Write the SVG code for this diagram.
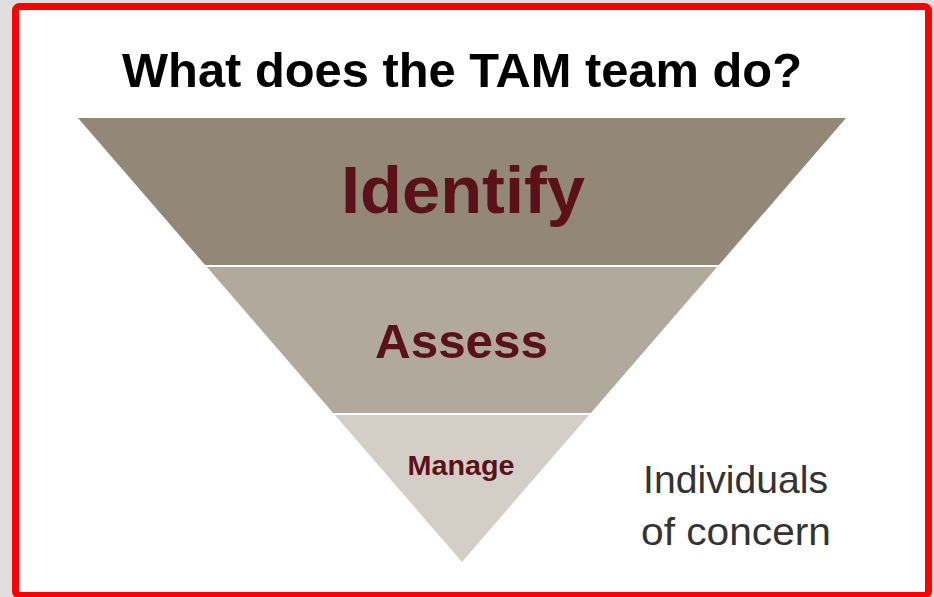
<svg xmlns="http://www.w3.org/2000/svg" width="934" height="597" viewBox="0 0 934 597">
<style>
.band-label{font-family:"Liberation Sans",Arial,sans-serif;font-weight:bold;fill:#5a1119;text-anchor:middle}
.title{font-family:"Liberation Sans",Arial,sans-serif;font-weight:bold;fill:#000;text-anchor:middle}
.note{font-family:"Liberation Sans",Arial,sans-serif;fill:#333333;font-weight:normal}
</style>
<rect x="0" y="0" width="934" height="597" fill="#dedede"/>
<rect x="15.5" y="6.5" width="913" height="589" rx="4" fill="#ffffff" stroke="#ff0000" stroke-width="7"/>
<g id="title">
<text class="title" x="462" y="87" font-size="49" textLength="680" lengthAdjust="spacingAndGlyphs">What does the TAM team do?</text>
</g>
<g id="identify">
<polygon points="78,118 846,118 718.9,265 205.1,265" fill="#938878"/>
<text class="band-label" x="463" y="213" font-size="66" textLength="244" lengthAdjust="spacingAndGlyphs">Identify</text>
</g>
<g id="assess">
<polygon points="206.9,267 717.1,267 590.9,413 333.1,413" fill="#b1aa9c"/>
<text class="band-label" x="461.5" y="358" font-size="49" textLength="173" lengthAdjust="spacingAndGlyphs">Assess</text>
</g>
<g id="manage">
<polygon points="334.9,415 589.1,415 462,562" fill="#d3cfc6"/>
<text class="band-label" x="461" y="475" font-size="28.5" textLength="107" lengthAdjust="spacingAndGlyphs">Manage</text>
</g>
<g id="individuals">
<text class="note" x="643" y="493" font-size="39" textLength="185" lengthAdjust="spacingAndGlyphs">Individuals</text>
<text class="note" x="641" y="545" font-size="39" textLength="190" lengthAdjust="spacingAndGlyphs">of concern</text>
</g>
<g id="connectors"></g>
</svg>
